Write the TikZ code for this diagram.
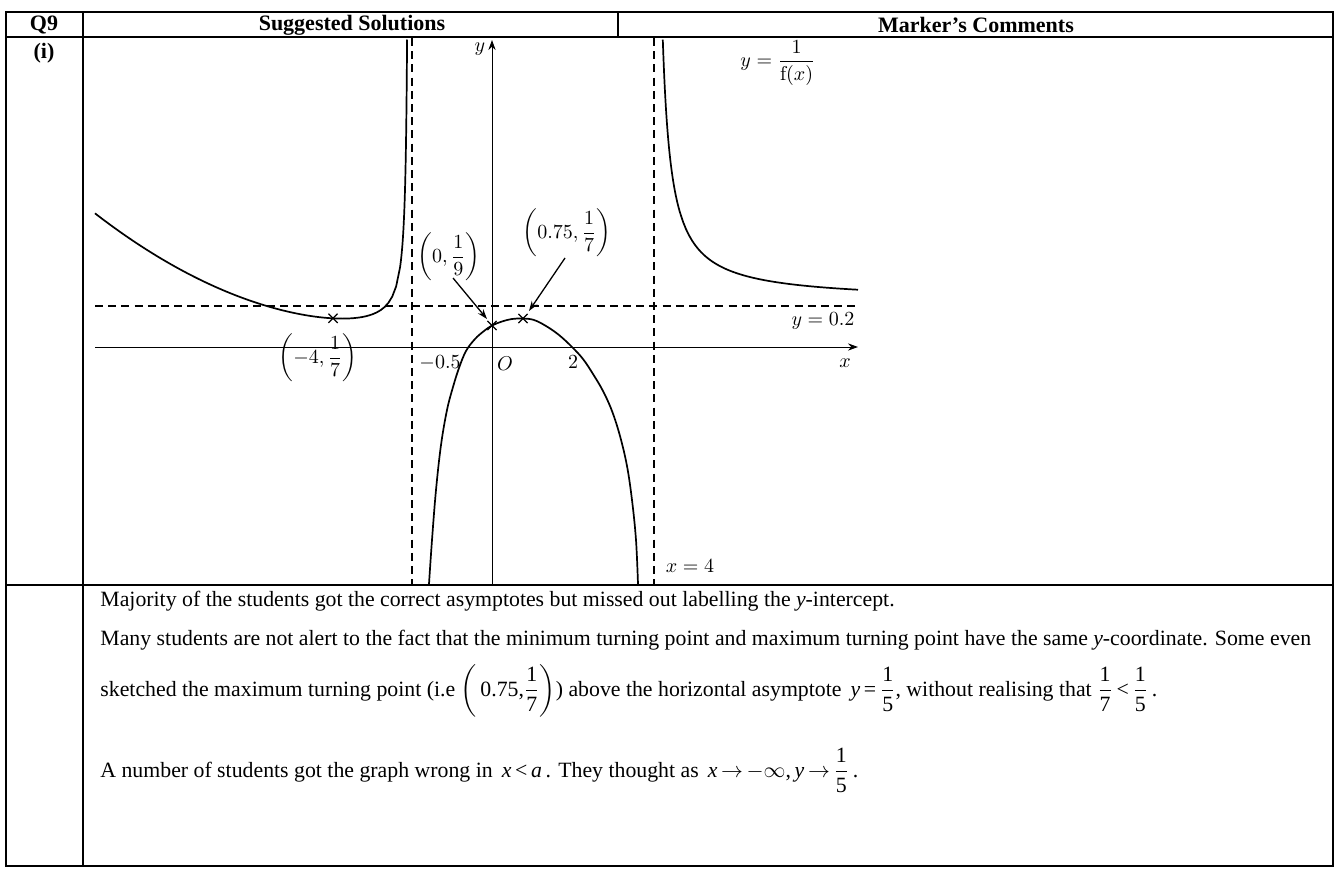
\documentclass[tikz,border=0pt]{standalone}
\usepackage{amsmath}
\usepackage[no-math]{fontspec}
\setmainfont{Liberation Serif}
\usetikzlibrary{arrows.meta,shapes.misc}
\tikzset{
 tbl/.style={line width=0.6pt},
 curve/.style={line width=0.85pt},
 asym/.style={line width=0.8pt, dash pattern=on 4pt off 2.6pt},
 axis/.style={line width=0.5pt, -{Stealth[length=5pt,width=3.6pt]}},
 ptr/.style={line width=0.65pt, -{Stealth[length=5pt,width=3.4pt]}},
 xmark/.style={cross out, draw, line width=0.6pt, minimum size=4pt, inner sep=0pt},
 lbl/.style={inner sep=1pt},
 hdr/.style={font=\fontsize{11}{13}\selectfont\bfseries},
 cmt/.style={anchor=base west, inner sep=0pt, font=\fontsize{10.9}{13}\selectfont},
}
\newcommand{\tfr}[2]{\dfrac{\mbox{#1}}{\mbox{#2}}}
\begin{document}
\begin{tikzpicture}[x=0.5pt,y=-0.5pt]
\useasboundingbox (0,0) rectangle (1335,878);
% table
\draw[tbl] (6,12) rectangle (1333,866);
\draw[tbl] (6,37) -- (1333,37);
\draw[tbl] (6,585) -- (1333,585);
\draw[tbl] (83,12) -- (83,866);
\draw[tbl] (618,12) -- (618,37);
\node[hdr] (hq) at (44,25) {Q9};
\node[hdr] (hs) at (352,25) {Suggested Solutions};
\node[hdr] (hm) at (976,25) {Marker’s Comments};
\node[hdr] (hi) at (44,53) {(i)};
% asymptotes
\draw[asym] (95,306) -- (858,306);
\draw[asym] (412,38) -- (412,584);
\draw[asym] (654,38) -- (654,584);
% axes
\coordinate (xs) at (95,347); \coordinate (xe) at (858,347);
\draw[axis] (xs) -- (xe);
\coordinate (ys) at (492,584); \coordinate (ye) at (492,40);
\draw[axis] (ys) -- (ye);
% curves
\draw[curve] plot[domain=95:400, samples=80] (\x, {330 - 13.2*((\x-390)/100)*((\x-390)/100) - 560/(409-\x)})
  -- plot[domain=400:407.07, samples=40] (\x, {330 - 13.2*((\x-390)/100)*((\x-390)/100) - 560/(409-\x)});
\draw[curve] plot[domain=662.8:680, samples=40] (\x, {301 - 2300/(\x-654)})
  -- plot[domain=680:858, samples=60] (\x, {301 - 2300/(\x-654)});
\draw[curve] plot[smooth, tension=0.6] coordinates {(429,584) (432,540) (436,490) (441,445) (447,410) (453,387) (459,368) (466,351) (475,339) (484,331) (492,325.5) (502,321.5) (512,319) (523,318.5) (534,320) (546,326) (559,335) (572,347) (583,359) (593,374) (603,391) (612,411) (620,436) (627,466) (632,500) (636,540) (638,584)};
% labels
\node[lbl] (lx) at (845,363) {$x$};
\node[lbl] (ly) at (480,49) {$y$};
\node[lbl] (lasy) at (823,321) {$y=0.2$};
\node[lbl] (lx4) at (690,566) {$x=4$};
\node[lbl] (lm05) at (440,363) {$-0.5$};
\node[lbl] (lO) at (505,364) {$O$};
\node[lbl] (l2) at (573,362) {$2$};
\node[lbl] (lmin) at (318,358) {$\left(-4,\dfrac{1}{7}\right)$};
\node[lbl] (lyint) at (449,257) {$\left(0,\dfrac{1}{9}\right)$};
\node[lbl] (lmax) at (567,233) {$\left(0.75,\dfrac{1}{7}\right)$};
\node[lbl] (lfun) at (778,63) {$y=\dfrac{1}{\mathrm{f}(x)}$};
% marks and pointers
\node[xmark] (m1) at (333,318.3) {};
\node[xmark] (m2) at (492,325.5) {};
\node[xmark] (m3) at (523,318.5) {};
\coordinate (p1s) at (453,278); \coordinate (p1e) at (487,319);
\draw[ptr] (p1s) -- (p1e);
\coordinate (p2s) at (565,258); \coordinate (p2e) at (529,311);
\draw[ptr] (p2s) -- (p2e);
% comments
\node[cmt] (c1) at (100,606) {Majority of the students got the correct asymptotes but missed out labelling the \textit{y}-intercept.};
\node[cmt] (c2) at (100,645) {Many students are not alert to the fact that the minimum turning point and maximum turning point have the same \textit{y}-coordinate. Some even};
\node[cmt] (c3) at (100,696) {sketched the maximum turning point (i.e $\biggl(\,\mbox{0.75,}\tfr{1}{7}\biggr)$) above the horizontal asymptote \,\textit{y}\,=\,$\tfr{1}{5}$, without realising that $\tfr{1}{7}$\,<\,$\tfr{1}{5}$\,.};
\node[cmt] (c4) at (100,777) {A number of students got the graph wrong in \,\textit{x}\,<\,\textit{a}\,. They thought as \,\textit{x}\,$\rightarrow$\,$-\infty$,\,\textit{y}\,$\rightarrow$\,$\tfr{1}{5}$\,.};
\end{tikzpicture}
\end{document}
